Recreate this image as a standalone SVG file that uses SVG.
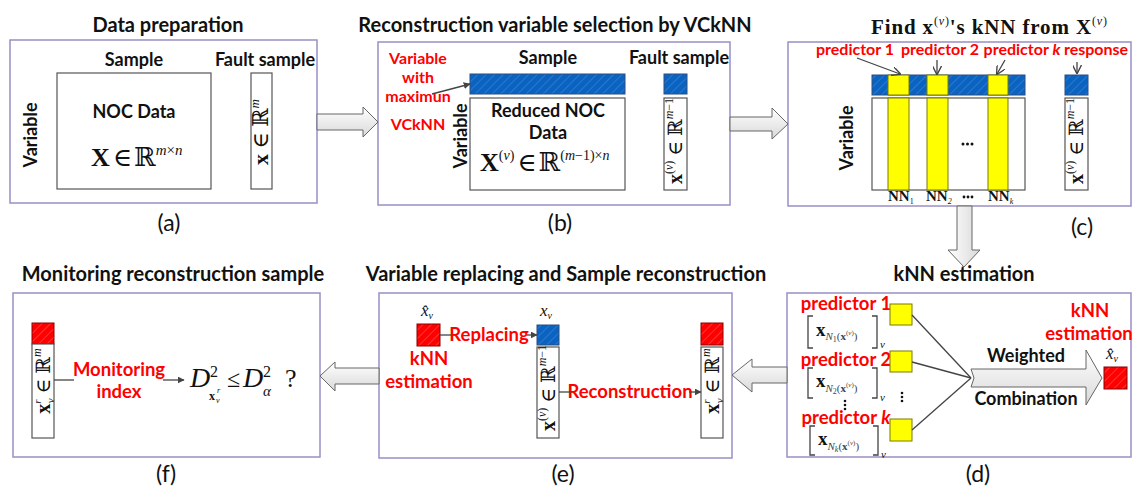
<svg xmlns="http://www.w3.org/2000/svg" width="1134" height="486" viewBox="0 0 1134 486">
<style>
.title{font-family:Lato,"Open Sans",sans-serif;font-weight:bold;font-size:20px;fill:#111;text-anchor:middle}
.lbl{font-family:Lato,"Open Sans",sans-serif;font-size:23px;fill:#111;text-anchor:middle}
.bt{font-family:Lato,"Open Sans",sans-serif;font-weight:bold;font-size:18px;fill:#111;text-anchor:middle}
.red{font-family:Lato,"Open Sans",sans-serif;font-weight:bold;font-size:16px;fill:#ff0000;text-anchor:middle}
.red2{font-family:Lato,"Open Sans",sans-serif;font-weight:bold;font-size:18.5px;fill:#ff0000;text-anchor:middle}
.math{font-family:"Liberation Serif","DejaVu Serif",serif;fill:#111}
.panel{fill:#fff;stroke:#9b8fc6;stroke-width:1.5}
.box{fill:#fff;stroke:#555;stroke-width:1.2}
.blue{fill:url(#hb);stroke:#2b4f80;stroke-width:1}
.yel{fill:#ffff00;stroke:#7a7a00;stroke-width:1}
.redsq{fill:url(#hr);stroke:#8a0000;stroke-width:1}
.big{fill:url(#gh);stroke:#666;stroke-width:1}
.bigv{fill:url(#gv);stroke:#666;stroke-width:1}
.line{stroke:#444;stroke-width:1.3;fill:none}
.dot{fill:#111}
</style>
<defs>
<pattern id="hb" patternUnits="userSpaceOnUse" width="6" height="6" patternTransform="rotate(45)">
<rect width="6" height="6" fill="#0b63c1"/><line x1="0" y1="0" x2="0" y2="6" stroke="#3f86d4" stroke-width="1.2"/>
</pattern>
<pattern id="hr" patternUnits="userSpaceOnUse" width="6" height="6" patternTransform="rotate(45)">
<rect width="6" height="6" fill="#ff0000"/><line x1="0" y1="0" x2="0" y2="6" stroke="#ff5555" stroke-width="1.2"/>
</pattern>
<linearGradient id="gh" x1="0" y1="0" x2="0" y2="1">
<stop offset="0" stop-color="#ffffff"/><stop offset="1" stop-color="#d9d9d9"/>
</linearGradient>
<linearGradient id="gv" x1="0" y1="0" x2="1" y2="0">
<stop offset="0" stop-color="#ffffff"/><stop offset="1" stop-color="#d9d9d9"/>
</linearGradient>
<marker id="ah" viewBox="0 0 10 10" refX="9" refY="5" markerWidth="7" markerHeight="7" orient="auto" markerUnits="userSpaceOnUse">
<path d="M0,0 L10,5 L0,10 z" fill="#444"/>
</marker>
<marker id="av" viewBox="0 0 10 10" refX="9" refY="5" markerWidth="9" markerHeight="9" orient="auto" markerUnits="userSpaceOnUse">
<path d="M0,0 L10,5 L0,10" fill="none" stroke="#444" stroke-width="1.5"/>
</marker>
</defs>
<rect width="1134" height="486" fill="#fff"/>

<!-- (a) -->
<g id="panel-a">
<text class="title" x="168" y="32">Data preparation</text>
<rect class="panel" x="10" y="40" width="307" height="163"/>
<text class="bt" x="134" y="66">Sample</text>
<text class="bt" x="265" y="66">Fault sample</text>
<text class="bt" transform="translate(37,135) rotate(-90)">Variable</text>
<rect class="box" x="57" y="73" width="154" height="116"/>
<text class="bt" x="134" y="118" font-size="17">NOC Data</text>
<text class="math" x="91" y="166" font-size="26"><tspan font-weight="bold">X</tspan><tspan dx="3">∈</tspan><tspan dx="2">ℝ</tspan><tspan font-size="15" dy="-11" font-style="italic">m</tspan><tspan font-size="15">×</tspan><tspan font-size="15" font-style="italic">n</tspan></text>
<rect class="box" x="251" y="73" width="21" height="116"/>
<text class="math" font-size="22" text-anchor="middle" transform="translate(268,132) rotate(-90)"><tspan font-weight="bold">x</tspan> ∈ ℝ<tspan font-size="13" dy="-9" font-style="italic">m</tspan></text>
<text class="lbl" x="169" y="231">(a)</text>
</g>

<!-- (b) -->
<g id="panel-b">
<text class="title" x="555" y="32">Reconstruction variable selection by VCkNN</text>
<rect class="panel" x="378" y="42" width="352" height="163"/>
<text class="red" x="418" y="64">Variable</text>
<text class="red" x="418" y="83">with</text>
<text class="red" x="418" y="102">maximun</text>
<text class="red" x="418" y="130">VCkNN</text>
<text class="bt" x="548" y="64">Sample</text>
<text class="bt" x="679" y="64">Fault sample</text>
<rect class="blue" x="470" y="74" width="155" height="20"/>
<rect class="box" x="470" y="98" width="155" height="92"/>
<text class="bt" transform="translate(467,136) rotate(-90)">Variable</text>
<text class="bt" x="548" y="117">Reduced NOC</text>
<text class="bt" x="548" y="139">Data</text>
<text class="math" x="480" y="171" font-size="26"><tspan font-weight="bold">X</tspan><tspan font-size="14" dy="-11">(</tspan><tspan font-size="14" font-style="italic">v</tspan><tspan font-size="14">)</tspan><tspan dx="3" dy="11">∈</tspan><tspan dx="2">ℝ</tspan><tspan font-size="14" dy="-11">(</tspan><tspan font-size="14" font-style="italic">m</tspan><tspan font-size="14">−1)×</tspan><tspan font-size="14" font-style="italic">n</tspan></text>
<rect class="blue" x="664" y="74" width="23" height="20"/>
<rect class="box" x="664" y="98" width="23" height="92"/>
<text class="math" font-size="20" text-anchor="middle" transform="translate(682,141) rotate(-90)"><tspan font-weight="bold">x</tspan><tspan font-size="12" dy="-9">(</tspan><tspan font-size="12" font-style="italic">v</tspan><tspan font-size="12">)</tspan><tspan dy="9"> ∈ ℝ</tspan><tspan font-size="12" dy="-9" font-style="italic">m</tspan><tspan font-size="12">−1</tspan></text>
<text class="lbl" x="560" y="231">(b)</text>
</g>

<!-- (c) -->
<g id="panel-c">
<text class="math" x="989" y="34" font-size="21" font-weight="bold" text-anchor="middle" textLength="236" lengthAdjust="spacing">Find x<tspan font-size="12" font-weight="normal" dy="-9">(</tspan><tspan font-size="12" font-weight="normal" font-style="italic">v</tspan><tspan font-size="12" font-weight="normal">)</tspan><tspan dy="9">'s kNN from X</tspan><tspan font-size="12" font-weight="normal" dy="-9">(</tspan><tspan font-size="12" font-weight="normal" font-style="italic">v</tspan><tspan font-size="12" font-weight="normal">)</tspan></text>
<rect class="panel" x="788" y="42" width="343" height="164"/>
<text class="red" x="855" y="55" font-size="15.5">predictor 1</text>
<text class="red" x="940" y="55" font-size="15.5">predictor 2</text>
<text class="red" x="1022" y="55" font-size="15.5">predictor <tspan font-style="italic">k</tspan></text>
<text class="red" x="1096" y="55" font-size="15.5">response</text>
<rect class="blue" x="872" y="75" width="153" height="20"/>
<rect class="yel" x="888" y="75" width="21" height="20"/>
<rect class="yel" x="927" y="75" width="21" height="20"/>
<rect class="yel" x="988" y="75" width="20" height="20"/>
<rect class="box" x="872" y="98" width="153" height="92"/>
<rect class="yel" x="888" y="98" width="21" height="92"/>
<rect class="yel" x="927" y="98" width="21" height="92"/>
<rect class="yel" x="988" y="98" width="20" height="92"/>
<text class="bt" transform="translate(853,138) rotate(-90)">Variable</text>
<circle class="dot" cx="963" cy="144" r="1.5"/><circle class="dot" cx="967.5" cy="144" r="1.5"/><circle class="dot" cx="972" cy="144" r="1.5"/>
<text class="math" font-size="15" font-weight="bold" x="888" y="201">NN<tspan font-size="8" font-weight="normal" dy="3">1</tspan></text>
<text class="math" font-size="15" font-weight="bold" x="926" y="201">NN<tspan font-size="8" font-weight="normal" font-style="italic" dy="3">2</tspan></text>
<circle class="dot" cx="964" cy="197" r="1.4"/><circle class="dot" cx="968" cy="197" r="1.4"/><circle class="dot" cx="972" cy="197" r="1.4"/>
<text class="math" font-size="15" font-weight="bold" x="988" y="201">NN<tspan font-size="8" font-weight="normal" font-style="italic" dy="3">k</tspan></text>
<rect class="blue" x="1065" y="75" width="23" height="20"/>
<rect class="box" x="1065" y="98" width="23" height="92"/>
<text class="math" font-size="20" text-anchor="middle" transform="translate(1083,141) rotate(-90)"><tspan font-weight="bold">x</tspan><tspan font-size="12" dy="-9">(</tspan><tspan font-size="12" font-style="italic">v</tspan><tspan font-size="12">)</tspan><tspan dy="9"> ∈ ℝ</tspan><tspan font-size="12" dy="-9" font-style="italic">m</tspan><tspan font-size="12">−1</tspan></text>
<text class="lbl" x="1082" y="235">(c)</text>
</g>

<!-- (d) -->
<g id="panel-d">
<text class="title" x="964" y="281">kNN estimation</text>
<rect class="panel" x="787" y="293" width="344" height="164"/>
<text class="red2" x="846" y="310">predictor 1</text>
<text class="red2" x="846" y="366">predictor 2</text>
<text class="red2" x="846" y="424">predictor <tspan font-style="italic">k</tspan></text>
<path class="line" d="M813,316 H808 V348 H813 M872,316 H877 V348 H872" stroke-width="1"/>
<path class="line" d="M813,368 H808 V398 H813 M872,368 H877 V398 H872" stroke-width="1"/>
<path class="line" d="M815,426 H810 V455 H815 M873,426 H878 V455 H873" stroke-width="1"/>
<text class="math" x="816" y="336" font-size="19" font-weight="bold">x<tspan font-size="11" font-weight="normal" fill="#444" dy="4" font-style="italic">N</tspan><tspan font-size="8" font-weight="normal" fill="#444" dy="2">1</tspan><tspan font-size="11" font-weight="normal" fill="#444" dy="-2">(</tspan><tspan font-size="11" fill="#444">x</tspan><tspan font-size="7" font-weight="normal" fill="#444" dy="-5">(</tspan><tspan font-size="7" font-weight="normal" font-style="italic" fill="#444">v</tspan><tspan font-size="7" font-weight="normal" fill="#444">)</tspan><tspan font-size="11" font-weight="normal" fill="#444" dy="5">)</tspan></text>
<text class="math" x="880" y="348" font-size="11" font-style="italic">v</text>
<text class="math" x="816" y="387" font-size="19" font-weight="bold">x<tspan font-size="11" font-weight="normal" fill="#444" dy="5" font-style="italic">N</tspan><tspan font-size="8" font-weight="normal" fill="#444" dy="2">2</tspan><tspan font-size="11" font-weight="normal" fill="#444" dy="-2">(</tspan><tspan font-size="11" fill="#444">x</tspan><tspan font-size="7" font-weight="normal" fill="#444" dy="-5">(</tspan><tspan font-size="7" font-weight="normal" font-style="italic" fill="#444">v</tspan><tspan font-size="7" font-weight="normal" fill="#444">)</tspan><tspan font-size="11" font-weight="normal" fill="#444" dy="5">)</tspan></text>
<text class="math" x="880" y="401" font-size="11" font-style="italic">v</text>
<text class="math" x="818" y="445" font-size="19" font-weight="bold">x<tspan font-size="11" font-weight="normal" fill="#444" dy="5" font-style="italic">N</tspan><tspan font-size="8" font-weight="normal" font-style="italic" fill="#444" dy="2">k</tspan><tspan font-size="11" font-weight="normal" fill="#444" dy="-2">(</tspan><tspan font-size="11" fill="#444">x</tspan><tspan font-size="7" font-weight="normal" fill="#444" dy="-5">(</tspan><tspan font-size="7" font-weight="normal" font-style="italic" fill="#444">v</tspan><tspan font-size="7" font-weight="normal" fill="#444">)</tspan><tspan font-size="11" font-weight="normal" fill="#444" dy="5">)</tspan></text>
<text class="math" x="881" y="458" font-size="11" font-style="italic">v</text>
<circle class="dot" cx="845" cy="401" r="1.3"/><circle class="dot" cx="845" cy="405" r="1.3"/><circle class="dot" cx="845" cy="409" r="1.3"/>
<circle class="dot" cx="902" cy="393" r="1.3"/><circle class="dot" cx="902" cy="397" r="1.3"/><circle class="dot" cx="902" cy="401" r="1.3"/>
<rect class="yel" x="890" y="304" width="22" height="21"/>
<rect class="yel" x="890" y="351" width="22" height="21"/>
<rect class="yel" x="890" y="419" width="22" height="22"/>
<path class="big" d="M971,369 H1086 V350 L1102,378 L1086,405 V387 H971 L974,378 Z"/>
<text class="bt" x="1026" y="362">Weighted</text>
<text class="bt" x="1026" y="405" font-size="17.5">Combination</text>
<text class="red2" x="1090" y="317" font-size="18">kNN</text>
<text class="red2" x="1089" y="340" font-size="18">estimation</text>
<text class="math" x="1106" y="359" font-size="17" font-style="italic">x̂<tspan font-size="10" dy="3">v</tspan></text>
<rect class="redsq" x="1104" y="367" width="23" height="22"/>
<text class="lbl" x="978" y="482">(d)</text>
</g>

<!-- (e) -->
<g id="panel-e">
<text class="title" x="566" y="281">Variable replacing and Sample reconstruction</text>
<rect class="panel" x="379" y="293" width="353" height="165"/>
<text class="math" x="421" y="316" font-size="17" font-style="italic">x̂<tspan font-size="10" dy="3">v</tspan></text>
<rect class="redsq" x="417" y="324" width="23" height="22"/>
<text class="red2" x="429" y="365" font-size="18">kNN</text>
<text class="red2" x="429" y="388" font-size="18">estimation</text>
<text class="red2" x="489" y="341" font-size="17">Replacing</text>
<text class="math" x="540" y="316" font-size="17" font-style="italic">x<tspan font-size="10" dy="3">v</tspan></text>
<rect class="blue" x="537" y="325" width="22" height="20"/>
<rect class="box" x="537" y="347" width="22" height="91"/>
<text class="math" font-size="20" text-anchor="middle" transform="translate(555,388) rotate(-90)"><tspan font-weight="bold">x</tspan><tspan font-size="12" dy="-9">(</tspan><tspan font-size="12" font-style="italic">v</tspan><tspan font-size="12">)</tspan><tspan dy="9"> ∈ ℝ</tspan><tspan font-size="12" dy="-9" font-style="italic">m</tspan><tspan font-size="12">−1</tspan></text>
<text class="red2" x="630" y="398" font-size="17.5">Reconstruction</text>
<rect class="redsq" x="701" y="323" width="22" height="22"/>
<rect class="box" x="701" y="347" width="22" height="91"/>
<text class="math" font-size="20" text-anchor="middle" transform="translate(719,381) rotate(-90)"><tspan font-weight="bold">x</tspan><tspan font-size="11" font-style="italic" dy="-9">r</tspan><tspan font-size="11" font-style="italic" dx="-4" dy="13">v</tspan><tspan dy="-4"> ∈ ℝ</tspan><tspan font-size="12" dy="-9" font-style="italic">m</tspan></text>
<text class="lbl" x="563" y="482">(e)</text>
</g>

<!-- (f) -->
<g id="panel-f">
<text class="title" x="173" y="281">Monitoring reconstruction sample</text>
<rect class="panel" x="13" y="293" width="307" height="164"/>
<rect class="redsq" x="32" y="323" width="22" height="21"/>
<rect class="box" x="32" y="344" width="22" height="94"/>
<text class="math" font-size="20" text-anchor="middle" transform="translate(50,381) rotate(-90)"><tspan font-weight="bold">x</tspan><tspan font-size="11" font-style="italic" dy="-9">r</tspan><tspan font-size="11" font-style="italic" dx="-4" dy="13">v</tspan><tspan dy="-4"> ∈ ℝ</tspan><tspan font-size="12" dy="-9" font-style="italic">m</tspan></text>
<text class="red2" x="119" y="376" font-size="19">Monitoring</text>
<text class="red2" x="119" y="398" font-size="19">index</text>
<text class="math" x="190" y="387" font-size="28" font-style="italic">D</text>
<text class="math" x="210" y="377" font-size="16">2</text>
<text class="math" x="209" y="400" font-size="12" font-weight="bold">x</text>
<text class="math" x="217" y="393" font-size="8" font-style="italic">r</text>
<text class="math" x="216" y="403" font-size="8" font-style="italic">v</text>
<text class="math" x="227" y="387" font-size="24">≤</text>
<text class="math" x="243" y="387" font-size="28" font-style="italic">D</text>
<text class="math" x="263" y="377" font-size="16">2</text>
<text class="math" x="263" y="396" font-size="15" font-style="italic">α</text>
<text class="math" x="285" y="387" font-size="26">?</text>
<text class="lbl" x="166" y="482">(f)</text>
</g>

<!-- connectors -->
<g id="connectors">
<path class="big" d="M317,114 H363 V107 L378,122 L363,137 V130 H317 Z"/>
<path class="big" d="M730,117 H772 V108 L788,124 L772,139 V131 H730 Z"/>
<path class="bigv" d="M957,206 V250 H948 L964,267 L980,250 H972 V206 Z"/>
<path class="big" d="M787,367 H752 V359 L732,375 L752,392 V383 H787 Z"/>
<path class="big" d="M379,368 H335 V362 L320,376 L335,391 V384 H379 Z"/>
<line class="line" x1="432" y1="94" x2="470" y2="84" marker-end="url(#ah)"/>
<line class="line" x1="857" y1="58" x2="900" y2="74" marker-end="url(#av)"/>
<line class="line" x1="937" y1="60" x2="937" y2="74" marker-end="url(#av)"/>
<line class="line" x1="1005" y1="60" x2="997" y2="74" marker-end="url(#av)"/>
<line class="line" x1="1077" y1="62" x2="1077" y2="73" marker-end="url(#av)"/>
<line class="line" x1="912" y1="315" x2="971" y2="378"/>
<line class="line" x1="912" y1="362" x2="971" y2="378"/>
<line class="line" x1="912" y1="430" x2="971" y2="378"/>
<line class="line" x1="440" y1="335" x2="451" y2="335"/>
<line class="line" x1="527" y1="335" x2="537" y2="335" marker-end="url(#ah)"/>
<line class="line" x1="559" y1="392" x2="571" y2="392"/>
<line class="line" x1="689" y1="392" x2="701" y2="392" marker-end="url(#ah)"/>
<line class="line" x1="54" y1="380" x2="74" y2="380"/>
<line class="line" x1="163" y1="380" x2="184" y2="380" marker-end="url(#ah)"/>
</g>
</svg>
